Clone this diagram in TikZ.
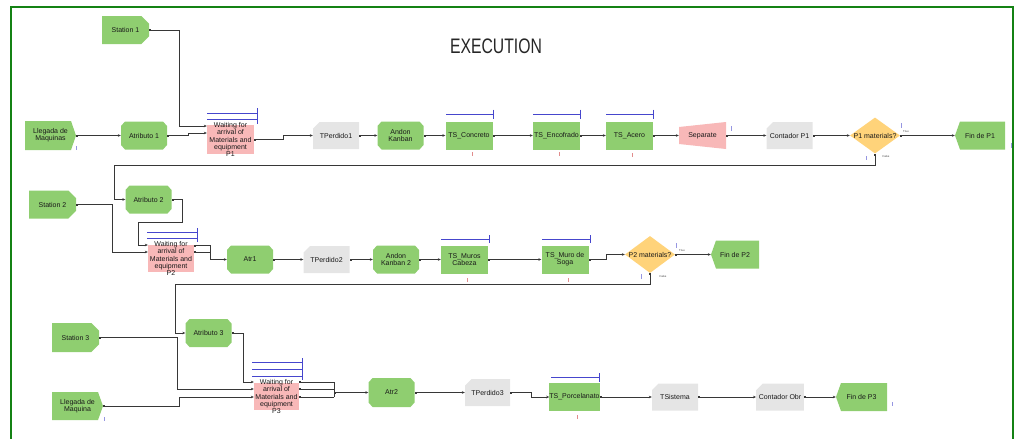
\documentclass[tikz,border=0pt]{standalone}
\usepackage{fontspec}
\setmainfont{Liberation Sans}
\usetikzlibrary{shapes.misc,shapes.geometric,arrows.meta}
\definecolor{boxgreen}{RGB}{143,206,112}
\definecolor{pinkfill}{RGB}{248,184,184}
\definecolor{cardgray}{RGB}{229,229,229}
\definecolor{decfill}{RGB}{255,211,122}
\definecolor{qblue}{RGB}{70,70,205}
\definecolor{linec}{RGB}{55,55,55}
\definecolor{framegreen}{RGB}{20,130,20}
\definecolor{mkblue}{RGB}{150,150,225}
\definecolor{mkred}{RGB}{225,140,140}
\begin{document}
\begin{tikzpicture}[x=1pt,y=-1pt,
  lbl/.style={inner sep=0pt, align=center, font=\fontsize{7}{7.1}\selectfont, text=black!90},
  octbox/.style={lbl, rectangle, fill=white, minimum width=46pt, minimum height=28pt,
    path picture={\fill[boxgreen] ([xshift=4pt]path picture bounding box.north west)
      -- ([xshift=-4pt]path picture bounding box.north east)
      -- ([yshift=-4.5pt]path picture bounding box.north east)
      -- ([yshift=4.5pt]path picture bounding box.south east)
      -- ([xshift=-4pt]path picture bounding box.south east)
      -- ([xshift=4pt]path picture bounding box.south west)
      -- ([yshift=4.5pt]path picture bounding box.south west)
      -- ([yshift=-4.5pt]path picture bounding box.north west) -- cycle;}},
  stbox/.style={lbl, chamfered rectangle, chamfered rectangle corners={north east,south east},
    chamfered rectangle xsep=5pt, chamfered rectangle ysep=5pt,
    fill=boxgreen, minimum width=47pt, minimum height=28pt},
  cardbox/.style={lbl, chamfered rectangle, chamfered rectangle corners=north west,
    chamfered rectangle xsep=4pt, chamfered rectangle ysep=4pt,
    fill=cardgray, minimum width=46pt, minimum height=27pt},
  tsbox/.style={lbl, rectangle, fill=boxgreen, minimum width=47pt, minimum height=28pt},
  waitbox/.style={lbl, rectangle, fill=pinkfill, minimum width=47pt, minimum height=29pt},
  srcbox/.style={lbl, rectangle, fill=white, minimum width=51pt, minimum height=29pt,
    path picture={\fill[boxgreen] (path picture bounding box.north west)
      -- ([xshift=-5pt]path picture bounding box.north east)
      -- (path picture bounding box.east)
      -- ([xshift=-5pt]path picture bounding box.south east)
      -- (path picture bounding box.south west) -- cycle;}},
  endbox/.style={lbl, rectangle, fill=white, minimum width=50pt, minimum height=28pt,
    path picture={\fill[boxgreen] ([xshift=5pt]path picture bounding box.north west)
      -- (path picture bounding box.north east)
      -- (path picture bounding box.south east)
      -- ([xshift=5pt]path picture bounding box.south west)
      -- (path picture bounding box.west) -- cycle;}},
  sepbox/.style={lbl, rectangle, fill=white, minimum width=47pt, minimum height=27pt,
    path picture={\fill[pinkfill] ([yshift=-5pt]path picture bounding box.north west)
      -- (path picture bounding box.north east)
      -- (path picture bounding box.south east)
      -- ([yshift=5pt]path picture bounding box.south west) -- cycle;}},
  decbox/.style={diamond, fill=decfill, inner sep=0pt, minimum width=50pt, minimum height=36pt},
  con/.style={draw=linec, line width=0.8pt,
    {Square[length=1.6pt,width=1.6pt]}-{Stealth[length=3pt,width=2.6pt]}},
  conj/.style={draw=linec, line width=0.8pt, {Square[length=1.6pt,width=1.6pt]}-},
  queue/.style={draw=qblue, line width=0.9pt},
  mkb/.style={draw=mkblue, line width=0.7pt},
  mkr/.style={draw=mkred, line width=0.7pt},
  tiny/.style={inner sep=0pt, font=\fontsize{2.8}{3}\selectfont, text=black!75}
]
\useasboundingbox (0,0) rectangle (1015,439);

% frame and title
\draw[framegreen, line width=1.8pt] (11,450) -- (11,7) -- (1013,7) -- (1013,450);
\node[font=\fontsize{21}{21}\selectfont, xscale=0.75, transform shape, text=black!85] (title) at (496,46) {EXECUTION};

% ---------------- line P1 ----------------
\node[stbox]  (st1) at (125.5,30)    {Station 1};
\node[srcbox] (ll1) at (50.5,135.5)  {Llegada de\\Maquinas};
\node[octbox] (at1) at (144,135.5)   {Atributo 1};
\node[waitbox] (w1) at (230.5,139.5) {};
\node[lbl] (w1t) at (w1) {Waiting for\\arrival of\\Materials and\\equipment\\P1};
\node[cardbox] (tp1) at (336,135.5)  {TPerdido1};
\node[octbox] (ak1) at (400.5,135.5) {Andon\\Kanban};
\node[tsbox]  (tsc) at (469,135.5)   {TS\_Concreto};
\node[tsbox]  (tse) at (556.5,135.5) {TS\_Encofrado};
\node[tsbox]  (tsa) at (629.5,135.5) {TS\_Acero};
\node[sepbox] (sep) at (702.5,135.5) {Separate};
\node[cardbox] (cp1) at (789.5,135.5) {Contador P1};
\node[decbox] (d1) at (875,135.5) {};
\node[lbl] (d1t) at (d1) {P1 materials?};
\node[endbox] (f1) at (980,135.5) {Fin de P1};

% queues
\draw[queue] (207,113) -- (257,113) (207,119) -- (257,119) (257,108) -- (257,124);
\draw[queue] (446,114) -- (493,114) (493,109.5) -- (493,119);
\draw[queue] (533,114) -- (580,114) (580,109.5) -- (580,119);
\draw[queue] (606,114) -- (653,114) (653,109.5) -- (653,119);

\draw[con] (ll1.east) -- (at1.west);
\draw[con] (at1.east) -- (188,135.5) -- (188,133) -- ([yshift=6.5pt]w1.west);
\draw[con] (st1.east) -- (179,30) -- (179,126) -- ([yshift=13.5pt]w1.west);
\draw[con] (w1.east) -- (283,139.5) -- (283,135.5) -- (tp1.west);
\draw[con] (tp1.east) -- (ak1.west);
\draw[con] (ak1.east) -- (tsc.west);
\draw[con] (tsc.east) -- (tse.west);
\draw[con] (tse.east) -- (tsa.west);
\draw[con] (tsa.east) -- (sep.west);
\draw[con] (sep.east) -- (cp1.west);
\draw[con] (cp1.east) -- (d1.west);
\draw[con] (d1.east) -- (f1.west);
\node[tiny] (d1true)  at (906,132) {True};
\node[tiny] (d1false) at (886,156) {False};

% ---------------- line P2 ----------------
\node[stbox]  (st2) at (52.5,204.5)  {Station 2};
\node[octbox] (at2) at (148.5,199.5) {Atributo 2};
\node[waitbox, minimum width=46pt, minimum height=27pt] (w2) at (171,258.5) {};
\node[lbl] (w2t) at (w2) {Waiting for\\arrival of\\Materials and\\equipment\\P2};
\node[octbox] (atr1) at (250,259.5)  {Atr1};
\node[cardbox] (tp2) at (326.5,259.5) {TPerdido2};
\node[octbox] (ak2) at (396,259.5)   {Andon\\Kanban 2};
\node[tsbox]  (tsm) at (464.5,259.5) {TS\_Muros\\Cabeza};
\node[tsbox]  (tss) at (565,259.5)   {TS\_Muro de\\Soga};
\node[decbox, minimum height=37pt] (d2) at (650,254.5) {};
\node[lbl] (d2t) at (d2) {P2 materials?};
\node[endbox, minimum width=48pt] (f2) at (735,254.5) {Fin de P2};

\draw[queue] (147,232) -- (197,232) (147,238) -- (197,238) (197,228) -- (197,242);
\draw[queue] (441,239) -- (489,239) (489,235) -- (489,243);
\draw[queue] (542,239) -- (590,239) (590,235) -- (590,243);

% P1 "False" branch loops back to line P2
\draw[con] (d1.south) -- (875,165) -- (114,165) -- (114,199.5) -- (at2.west);

\draw[con] (st2.east) -- (112,204.5) -- (112,252) -- ([yshift=6.5pt]w2.west);
\draw[con] (at2.east) -- (182,199.5) -- (182,222) -- (138,222) -- (138,245) -- ([yshift=13.5pt]w2.west);
\draw[conj] ([yshift=13pt]w2.east) -- (210,245.5) -- (210,252);
\draw[con] ([yshift=6.5pt]w2.east) -- (210,252) -- (210,259.5) -- (atr1.west);
\draw[con] (atr1.east) -- (tp2.west);
\draw[con] (tp2.east) -- (ak2.west);
\draw[con] (ak2.east) -- (tsm.west);
\draw[con] (tsm.east) -- (tss.west);
\draw[con] (tss.east) -- (606,259.5) -- (606,254.5) -- (d2.west);
\draw[con] (d2.east) -- (f2.west);
\node[tiny] (d2true)  at (682,251) {True};
\node[tiny] (d2false) at (663,276) {False};

% ---------------- line P3 ----------------
\node[stbox, minimum height=29pt] (st3) at (75.5,337.5) {Station 3};
\node[srcbox, minimum height=28pt] (ll3) at (77.5,406) {Llegada de\\Maquina};
\node[octbox] (at3) at (208.5,333) {Atributo 3};
\node[waitbox, minimum width=45pt, minimum height=27pt] (w3) at (276.5,396.5) {};
\node[lbl] (w3t) at (w3) {Waiting for\\arrival of\\Materials and\\equipment\\P3};
\node[octbox, minimum height=29pt] (atr2) at (391.5,392.5) {Atr2};
\node[cardbox, minimum width=45pt] (tp3) at (487.5,392.5) {TPerdido3};
\node[tsbox]  (tsp) at (574.5,397) {TS\_Porcelanato};
\node[cardbox] (tsi) at (675,397)  {TSistema};
\node[cardbox] (cob) at (780,397)  {Contador Obr};
\node[endbox, minimum width=51pt] (f3) at (861.5,397) {Fin de P3};

\draw[queue] (252,362) -- (302,362) (252,369) -- (302,369) (252,376) -- (302,376) (302,358) -- (302,380);
\draw[queue] (551,377) -- (599,377) (599,373) -- (599,382);

% P2 "False" branch loops back to line P3
\draw[con] (d2.south) -- (650,284) -- (175,284) -- (175,333) -- (at3.west);

\draw[con] (at3.east) -- (243,333) -- (243,382) -- ([yshift=14.5pt]w3.west);
\draw[con] (st3.east) -- (177,337.5) -- (177,389) -- ([yshift=7.5pt]w3.west);
\draw[con] (ll3.east) -- (179,406) -- (179,397) -- ([yshift=-0.5pt]w3.west);
\draw[conj] ([yshift=14.5pt]w3.east) -- (334,382) -- (334,397);
\draw[conj] ([yshift=7.5pt]w3.east) -- (334,389);
\draw[conj] ([yshift=-0.5pt]w3.east) -- (334,397);
\coordinate (j3) at (334,392.5);
\draw[con] (j3) -- (atr2.west);
\draw[con] (atr2.east) -- (tp3.west);
\draw[con] (tp3.east) -- (531,392.5) -- (531,397) -- (tsp.west);
\draw[con] (tsp.east) -- (tsi.west);
\draw[con] (tsi.east) -- (cob.west);
\draw[con] (cob.east) -- (f3.west);

% small status marks
\draw[mkb] (76,146) -- (76,150);
\draw[mkb] (731,126) -- (731,131);
\draw[mkb] (901,123) -- (901,128);
\draw[mkb] (866,156) -- (866,160);
\draw[mkb] (1011,143) -- (1011,148);
\draw[mkb] (676,243) -- (676,248);
\draw[mkb] (641,274) -- (641,279);
\draw[mkb] (104,417) -- (104,421);
\draw[mkb] (892,402) -- (892,406);
\draw[mkr] (472,152) -- (472,156);
\draw[mkr] (559,152) -- (559,156);
\draw[mkr] (632,153) -- (632,157);
\draw[mkr] (467,278) -- (467,282);
\draw[mkr] (568,278) -- (568,282);
\draw[mkr] (577,415) -- (577,419);
\end{tikzpicture}
\end{document}
